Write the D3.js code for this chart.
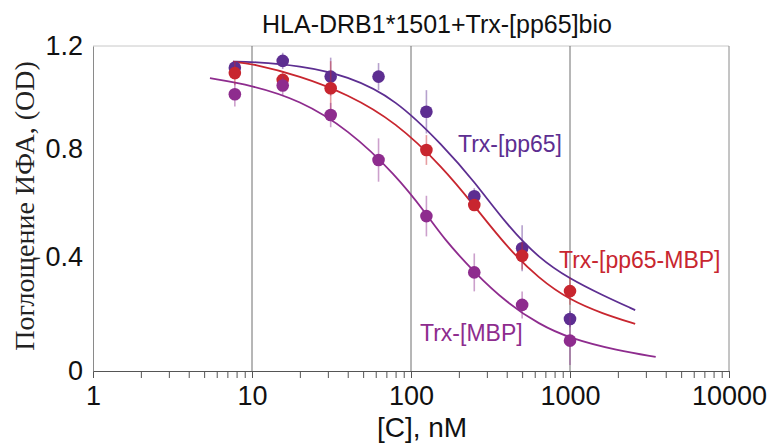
<!DOCTYPE html>
<html>
<head>
<meta charset="utf-8">
<script src="https://cdn.jsdelivr.net/npm/d3@7/dist/d3.min.js"></script>
<style>
  body { margin: 0; background: #fff; }
  svg text { font-family: "Liberation Sans", Arial, sans-serif; }
</style>
</head>
<body>
<div id="chart"></div>
<script>
// two-fold dilutions, nM
const concentrations = [7.8, 15.6, 31.25, 62.5, 125, 250, 500, 1000];

const pp65Values = [1.12, 1.145, 1.087, 1.087, 0.957, 0.645, 0.453, 0.192];
const pp65Errors = [0.02, 0.03, 0.07, 0.05, 0.08, 0.03, 0.085, 0.03];

const pp65MbpValues = [1.10, 1.075, 1.044, null, 0.816, 0.613, 0.425, 0.295];
const pp65MbpErrors = [0.045, 0.03, 0.1, null, 0.055, 0.02, 0.05, 0.05];

const mbpValues = [1.022, 1.054, 0.945, 0.779, 0.572, 0.364, 0.244, 0.112];
const mbpErrors = [0.045, 0.035, 0.045, 0.08, 0.075, 0.07, 0.05, 0.09];

// fitted curves
const pp65CurveX = [7.6, 10, 20, 40, 80, 160, 250, 400, 640, 1000, 1600, 2570];
const pp65CurveY = [1.142, 1.142, 1.128, 1.09, 1.005, 0.83, 0.70, 0.54, 0.415, 0.34, 0.28, 0.225];

const pp65MbpCurveX = [7.6, 10, 20, 40, 80, 160, 250, 400, 640, 1000, 1600, 2570];
const pp65MbpCurveY = [1.142, 1.135, 1.09, 1.022, 0.92, 0.75, 0.61, 0.458, 0.34, 0.262, 0.212, 0.174];

const mbpCurveX = [5.44, 10, 20, 40, 80, 125, 160, 250, 400, 640, 1000, 2000, 3460];
const mbpCurveY = [1.081, 1.055, 1.0, 0.893, 0.725, 0.58, 0.49, 0.364, 0.252, 0.172, 0.12, 0.075, 0.052];

const xMajorTicks = [1, 10, 100, 1000, 10000];
const yTicks = [0, 0.4, 0.8, 1.2];

const titleText = 'HLA-DRB1*1501+Trx-[pp65]bio';
const xTitle = '[C], nM';
const yTitle = 'Поглощение ИФА, (OD)';

const series = [
  { name: 'Trx-[pp65]', values: pp65Values, errors: pp65Errors, cx: pp65CurveX, cy: pp65CurveY,
    color: '#5d2e91', label: { x: 458, y: 152 } },
  { name: 'Trx-[pp65-MBP]', values: pp65MbpValues, errors: pp65MbpErrors, cx: pp65MbpCurveX, cy: pp65MbpCurveY,
    color: '#c8262f', label: { x: 559, y: 268 } },
  { name: 'Trx-[MBP]', values: mbpValues, errors: mbpErrors, cx: mbpCurveX, cy: mbpCurveY,
    color: '#8e2c8e', label: { x: 420, y: 341 } },
];

const width = 775;
const height = 446;
const margin = { top: 46, right: 46, bottom: 75, left: 93 };

const svg = d3.select('#chart')
  .append('svg')
  .attr('width', width)
  .attr('height', height);

const x = d3.scaleLog()
  .domain([1, 10000])
  .range([margin.left, width - margin.right]);

const y = d3.scaleLinear()
  .domain([0, 1.2])
  .range([height - margin.bottom, margin.top]);

// frame: top and right borders
svg.append('line')
  .attr('x1', x(1)).attr('x2', x(10000))
  .attr('y1', y(1.2)).attr('y2', y(1.2))
  .attr('stroke', '#c8c8c8');
svg.append('line')
  .attr('x1', x(10000)).attr('x2', x(10000))
  .attr('y1', y(1.2)).attr('y2', y(0))
  .attr('stroke', '#8a8a8a');

// vertical grid at decades
svg.append('g')
  .selectAll('line')
  .data([10, 100, 1000])
  .join('line')
  .attr('x1', (d) => x(d)).attr('x2', (d) => x(d))
  .attr('y1', y(1.2)).attr('y2', y(0))
  .attr('stroke', '#6e6e6e');

// x axis with minor ticks
const allTicks = [];
for (let dec = 1; dec < 10000; dec *= 10) {
  for (let k = 1; k < 10; k++) allTicks.push(dec * k);
}
allTicks.push(10000);

const xAxis = svg.append('g')
  .attr('transform', `translate(0,${y(0)})`)
  .call(d3.axisBottom(x)
    .tickValues(allTicks)
    .tickSize(7)
    .tickSizeOuter(0)
    .tickPadding(8)
    .tickFormat((d) => (xMajorTicks.includes(d) ? String(d) : '')));
xAxis.select('.domain').attr('stroke', '#555');
xAxis.selectAll('.tick line').attr('stroke', '#555');
xAxis.selectAll('.tick text')
  .attr('fill', '#111')
  .style('font-size', '27px');

// y axis, labels only
const yAxis = svg.append('g')
  .attr('transform', `translate(${x(1)},0)`)
  .call(d3.axisLeft(y)
    .tickValues(yTicks)
    .tickSize(0)
    .tickPadding(10)
    .tickFormat((d) => (d === 0 ? '0' : d3.format('.1f')(d))));
yAxis.select('.domain').attr('stroke', '#8a8a8a');
yAxis.selectAll('.tick text')
  .attr('fill', '#111')
  .attr('dy', (d) => (d === 0 || d === 1.2 ? '0.32em' : '0.1em'))
  .style('font-size', '27px');

// curves
const line = d3.line()
  .x((d) => x(d[0]))
  .y((d) => y(d[1]))
  .curve(d3.curveBasis);

series.forEach((s) => {
  svg.append('path')
    .datum(s.cx.map((c, i) => [c, s.cy[i]]))
    .attr('d', line)
    .attr('fill', 'none')
    .attr('stroke', s.color)
    .attr('stroke-width', 1.8);
});

// error bars and points
series.forEach((s) => {
  const pts = concentrations
    .map((c, i) => ({ c, v: s.values[i], e: s.errors[i] }))
    .filter((d) => d.v !== null);

  const g = svg.append('g');
  g.selectAll('line')
    .data(pts)
    .join('line')
    .attr('x1', (d) => x(d.c)).attr('x2', (d) => x(d.c))
    .attr('y1', (d) => y(d.v - d.e)).attr('y2', (d) => y(d.v + d.e))
    .attr('stroke', s.color)
    .attr('stroke-opacity', 0.45)
    .attr('stroke-width', 1.6);
  g.selectAll('circle')
    .data(pts)
    .join('circle')
    .attr('cx', (d) => x(d.c))
    .attr('cy', (d) => y(d.v))
    .attr('r', 6.3)
    .attr('fill', s.color);
});

// series labels
series.forEach((s) => {
  svg.append('text')
    .attr('x', s.label.x)
    .attr('y', s.label.y)
    .attr('fill', s.color)
    .style('font-size', '23px')
    .text(s.name);
});

// titles
svg.append('text')
  .attr('x', 437)
  .attr('y', 33)
  .attr('text-anchor', 'middle')
  .attr('fill', '#111')
  .style('font-size', '25px')
  .text(titleText);

svg.append('text')
  .attr('x', 422)
  .attr('y', 437)
  .attr('text-anchor', 'middle')
  .attr('fill', '#111')
  .style('font-size', '28px')
  .text(xTitle);

svg.append('text')
  .attr('transform', 'translate(34,206) rotate(-90)')
  .attr('text-anchor', 'middle')
  .attr('fill', '#222')
  .style('font-family', '"Liberation Serif", "Times New Roman", serif')
  .style('font-size', '28px')
  .text(yTitle);
</script>
</body>
</html>
